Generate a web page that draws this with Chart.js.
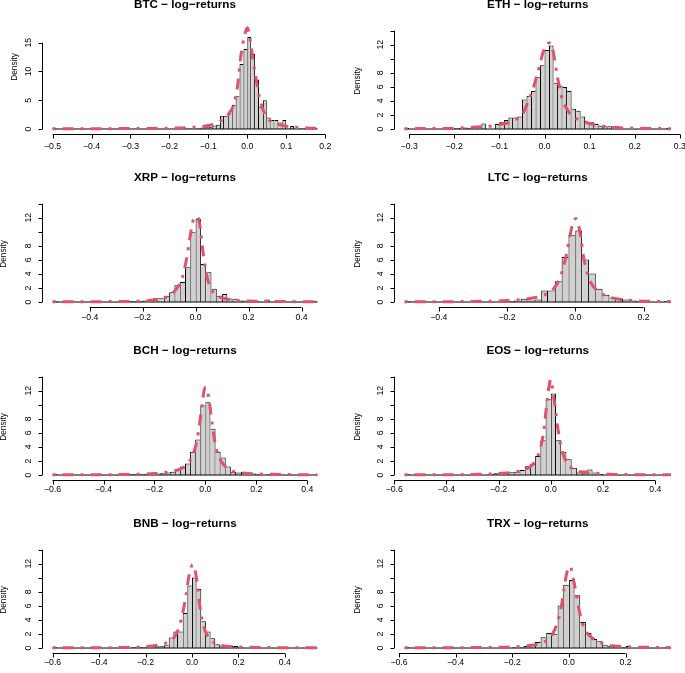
<!DOCTYPE html>
<html>
<head>
<meta charset="utf-8">
<script src="https://cdn.jsdelivr.net/npm/chart.js@4.4.1/dist/chart.umd.min.js"></script>
<style>
  body { margin: 0; background: #fff; }
  #wrap { position: relative; width: 685px; height: 673px; overflow: hidden; }
  #wrap canvas { position: absolute; }
</style>
</head>
<body>
<div id="wrap"></div>
<script>
// histogram densities (first break, bin width, heights)
const btcStart = -0.50, btcBin = 0.01;
const btcDensity = [0.15,
  0,0,0,0,0,0,0,0,0,0, 0,0,0,0,0,0,0,0,0,0, 0,0,0,0,0,0,0,0,0,0, 0,0,0,
  0.1,0.1,0.1,0.15,0.25,0.3,0.4,0.6,0.75,2.3,2.3,2.7,4.2,5.7,11.3,13.9,
  16.0,13.1,8.6,3.8,5.0,2.0,1.55,1.55,1.15,1.55,0.15,0.5,0.15,0.15,0.15,0.15,0.1,0.15];
const btcCurveX = [-0.5,-0.4,-0.3,-0.2,-0.15,-0.12,-0.1,-0.08,-0.06,-0.045,-0.035,-0.025,-0.017,-0.008,0.0,0.006,0.015,0.022,0.03,0.04,0.05,0.065,0.08,0.1,0.13,0.16,0.18];
const btcCurveY = [0.05,0.05,0.08,0.15,0.25,0.4,0.6,1.0,1.8,2.9,4.2,7.5,12.5,16.0,17.6,16.0,11.8,9.0,5.8,3.4,2.0,1.15,0.8,0.5,0.25,0.15,0.12];
const btcXTicks = [-0.5,-0.4,-0.3,-0.2,-0.1,0.0,0.1,0.2];

const ethStart = -0.31, ethBin = 0.01;
const ethDensity = [0.15,0,0,0,0.05,0,0,0,0,0.05,0.05,0.1,0.15,0.2,0.15,0.35,0.4,0.8,0.05,0.05,
  0.7,1.05,1.3,1.65,1.65,1.8,4.2,4.75,5.4,7.45,9.1,11.25,11.9,6.6,6.2,6.0,5.4,2.9,2.6,1.8,
  1.0,0.95,0.7,0.45,0.4,0.4,0.05,0.05,0,0.05,0,0.05,0,0,0.05,0,0,0,0.15];
const ethCurveX = [-0.31,-0.25,-0.2,-0.16,-0.13,-0.11,-0.09,-0.075,-0.06,-0.048,-0.036,-0.026,-0.018,-0.01,-0.004,0.004,0.01,0.016,0.022,0.028,0.034,0.04,0.05,0.06,0.075,0.09,0.11,0.13,0.16,0.2,0.24,0.28];
const ethCurveY = [0.05,0.07,0.12,0.25,0.35,0.5,0.75,1.0,1.5,2.2,4.0,5.6,7.4,9.2,10.8,11.9,12.25,11.9,10.0,7.6,5.7,4.1,2.8,1.9,1.35,1.0,0.6,0.4,0.2,0.12,0.08,0.05];
const ethXTicks = [-0.3,-0.2,-0.1,0.0,0.1,0.2,0.3];

const xrpStart = -0.54, xrpBin = 0.02;
const xrpDensity = [0.1,0,0,0.05,0,0,0,0.05,0,0,0,0,0.05,0,0.1,0.1,0.15,0.2,0.35,0.55,
  0.55,0.9,1.4,2.4,2.85,4.95,9.95,11.85,5.4,4.25,1.9,0.9,1.15,0.5,0.45,0.2,0.2,0.1,0.1,0.05,
  0.35,0.05,0,0.05,0,0.05,0,0,0,0.1];
const xrpCurveX = [-0.54,-0.4,-0.3,-0.2,-0.15,-0.1,-0.07,-0.05,-0.035,-0.02,-0.01,0.005,0.015,0.025,0.035,0.045,0.06,0.08,0.1,0.13,0.18,0.25,0.35,0.46];
const xrpCurveY = [0.05,0.05,0.07,0.15,0.35,0.9,2.0,3.5,6.0,9.5,11.5,12.2,11.2,8.0,5.2,3.3,1.8,0.95,0.6,0.35,0.15,0.1,0.06,0.05];
const xrpXTicks = [-0.4,-0.2,0.0,0.2,0.4];

const ltcStart = -0.50, ltcBin = 0.02;
const ltcDensity = [0.1,0.05,0,0,0.05,0,0,0,0,0,0.05,0,0,0,0.1,0.1,0.2,0.45,0.2,0.35,
  1.65,1.65,2.95,6.4,9.5,10.2,6.05,4.05,1.9,1.05,0.65,0.5,0.35,0.2,0.1,0.05,0.05,0.05,0.1];
const ltcCurveX = [-0.5,-0.4,-0.3,-0.2,-0.15,-0.12,-0.1,-0.08,-0.06,-0.045,-0.035,-0.025,-0.015,-0.006,0.002,0.008,0.016,0.024,0.034,0.045,0.06,0.08,0.1,0.13,0.17,0.22,0.28];
const ltcCurveY = [0.05,0.05,0.08,0.2,0.4,0.6,0.85,1.3,2.1,3.4,5.0,7.0,9.6,11.4,11.85,11.3,9.2,6.5,4.3,2.8,1.8,1.1,0.7,0.4,0.2,0.1,0.05];
const ltcXTicks = [-0.4,-0.2,0.0,0.2];

const bchStart = -0.60, bchBin = 0.02;
const bchDensity = [0.1,0,0,0.05,0,0,0,0,0.05,0,0,0,0.05,0,0,0.1,0.1,0.1,0.15,0.15,
  0.2,0.25,0.35,0.45,0.8,1.2,1.65,3.3,5.05,9.9,10.35,6.6,3.3,2.5,1.2,0.45,0.35,0.45,0.25,0.2,
  0.1,0.05,0.1,0.2,0.05,0,0.05,0,0,0.05,0,0.05];
const bchCurveX = [-0.6,-0.5,-0.4,-0.3,-0.2,-0.15,-0.12,-0.09,-0.065,-0.05,-0.035,-0.022,-0.012,-0.004,0.002,0.008,0.018,0.028,0.038,0.05,0.065,0.085,0.11,0.15,0.2,0.3,0.44];
const bchCurveY = [0.05,0.05,0.05,0.08,0.2,0.4,0.6,1.0,1.8,2.8,4.6,7.5,10.3,12.2,12.5,12.0,9.8,7.0,4.6,2.9,1.8,1.0,0.5,0.25,0.15,0.07,0.05];
const bchXTicks = [-0.6,-0.4,-0.2,0.0,0.2,0.4];

const eosStart = -0.56, eosBin = 0.02;
const eosDensity = [0.1,0,0,0.05,0,0,0,0,0.05,0,0,0,0.05,0,0.05,0.05,0.1,0.25,0.45,0.4,
  0.4,0.45,0.7,1.25,1.55,2.7,4.95,10.8,11.6,4.95,3.3,2.25,1.05,0.35,0.65,0.8,0.35,0.15,0.05,0.05,
  0,0.05,0,0.05,0.1,0,0,0.05,0,0,0.1];
const eosCurveX = [-0.56,-0.5,-0.4,-0.3,-0.2,-0.15,-0.1,-0.075,-0.055,-0.04,-0.028,-0.018,-0.008,0.0,0.008,0.018,0.028,0.04,0.055,0.075,0.1,0.13,0.17,0.22,0.3,0.4,0.46];
const eosCurveY = [0.05,0.05,0.05,0.07,0.2,0.35,0.75,1.3,2.3,3.8,6.0,9.3,12.3,13.6,12.0,9.3,6.4,3.9,2.2,1.1,0.6,0.35,0.25,0.12,0.06,0.05,0.05];
const eosXTicks = [-0.6,-0.4,-0.2,0.0,0.2,0.4];

const bnbStart = -0.60, bnbBin = 0.02;
const bnbDensity = [0.1,0,0,0.05,0,0,0,0,0,0.05,0,0,0,0.05,0,0.05,0.05,0.1,0.1,0.1,
  0.2,0.2,0.25,0.25,0.4,1.5,2.35,2.35,5.0,8.9,10.05,8.4,3.8,2.35,1.4,0.55,0.35,0.3,0.3,0.3,
  0.1,0.05,0.05,0,0.05,0,0,0,0,0,0,0,0,0,0,0,0.05];
const bnbCurveX = [-0.6,-0.5,-0.4,-0.3,-0.2,-0.15,-0.1,-0.075,-0.055,-0.04,-0.025,-0.015,-0.005,0.004,0.012,0.022,0.032,0.045,0.06,0.08,0.105,0.14,0.2,0.3,0.4,0.54];
const bnbCurveY = [0.05,0.05,0.05,0.07,0.2,0.4,0.9,1.6,3.0,5.0,7.6,9.9,11.4,11.85,11.3,9.3,6.4,3.8,2.2,1.2,0.55,0.3,0.15,0.08,0.05,0.05];
const bnbXTicks = [-0.6,-0.4,-0.2,0.0,0.2,0.4];

const trxStart = -0.58, trxBin = 0.02;
const trxDensity = [0.1,0,0,0,0,0,0,0,0,0.05,0,0,0,0,0,0.05,0,0.05,0.05,0.1,
  0.15,0.3,0.5,0.85,1.55,2.15,2.05,6.05,9.0,9.7,7.5,3.7,2.15,1.3,0.95,0.4,0.3,0.15,0.1,0.3,
  0.05,0.05,0,0.05,0,0.05,0.1];
const trxCurveX = [-0.58,-0.5,-0.4,-0.3,-0.2,-0.15,-0.1,-0.075,-0.055,-0.04,-0.028,-0.018,-0.008,0.002,0.008,0.016,0.026,0.036,0.048,0.065,0.09,0.12,0.16,0.22,0.3,0.36];
const trxCurveY = [0.05,0.05,0.05,0.08,0.15,0.3,0.65,1.2,2.2,3.7,5.6,8.2,10.6,11.6,11.3,9.8,7.7,5.4,3.5,2.1,1.2,0.6,0.3,0.15,0.08,0.05];
const trxXTicks = [-0.6,-0.4,-0.2,0.0,0.2];

// y axes: BTC has its own scale, the rest share one
const btcYTicks = [0, 5, 10, 15];
const btcYLabels = ["0", "5", "10", "15"];
const yTicks = [0, 2, 4, 6, 8, 10, 12, 14];
const yLabels = ["0", "2", "4", "6", "8", "", "12", ""];
const btcYRange = [-0.87, 22.43];
const yRange = [-0.71, 14.39];

const panels = [
  { name: "BTC", start: btcStart, bin: btcBin, dens: btcDensity, cx: btcCurveX, cy: btcCurveY, xt: btcXTicks, yt: btcYTicks, yl: btcYLabels, yr: btcYRange },
  { name: "ETH", start: ethStart, bin: ethBin, dens: ethDensity, cx: ethCurveX, cy: ethCurveY, xt: ethXTicks, yt: yTicks, yl: yLabels, yr: yRange },
  { name: "XRP", start: xrpStart, bin: xrpBin, dens: xrpDensity, cx: xrpCurveX, cy: xrpCurveY, xt: xrpXTicks, yt: yTicks, yl: yLabels, yr: yRange },
  { name: "LTC", start: ltcStart, bin: ltcBin, dens: ltcDensity, cx: ltcCurveX, cy: ltcCurveY, xt: ltcXTicks, yt: yTicks, yl: yLabels, yr: yRange },
  { name: "BCH", start: bchStart, bin: bchBin, dens: bchDensity, cx: bchCurveX, cy: bchCurveY, xt: bchXTicks, yt: yTicks, yl: yLabels, yr: yRange },
  { name: "EOS", start: eosStart, bin: eosBin, dens: eosDensity, cx: eosCurveX, cy: eosCurveY, xt: eosXTicks, yt: yTicks, yl: yLabels, yr: yRange },
  { name: "BNB", start: bnbStart, bin: bnbBin, dens: bnbDensity, cx: bnbCurveX, cy: bnbCurveY, xt: bnbXTicks, yt: yTicks, yl: yLabels, yr: yRange },
  { name: "TRX", start: trxStart, bin: trxBin, dens: trxDensity, cx: trxCurveX, cy: trxCurveY, xt: trxXTicks, yt: yTicks, yl: yLabels, yr: yRange }
];

// where each panel sits on the page
const PANEL_H = 173;
const rowTop = [-19, 154, 327, 500];
const tickGap = [12, 10, 9, 9];
const colLeft = [0, 342];
const colWidth = [342, 343];
const colPad = [{ left: 42, right: 14 }, { left: 52, right: 3.5 }];
const FONT = "'Liberation Sans', Arial, Helvetica, sans-serif";

function fmt(v) {
  return v.toFixed(1).replace("-", "\u2212");
}

// each shared edge between two bars is outlined once, by the taller bar
function barBorder(c) {
  const d = c.dataset.data, i = c.dataIndex;
  const h = d[i].y;
  const prev = i > 0 ? d[i - 1].y : -1;
  const next = i < d.length - 1 ? d[i + 1].y : -1;
  return { top: 1, bottom: 0, left: prev < h ? 1 : 0, right: next <= h ? 1 : 0 };
}

// R-like axes, title and y label drawn around the plot region
const baseAxes = {
  id: "baseAxes",
  afterDraw(chart, args, o) {
    const ctx = chart.ctx;
    const xs = chart.scales.x, ys = chart.scales.y, a = chart.chartArea;
    ctx.save();
    ctx.strokeStyle = "#000";
    ctx.fillStyle = "#000";
    ctx.lineWidth = 1;

    // title
    ctx.font = "bold 11.7px " + FONT;
    ctx.textAlign = "center";
    ctx.textBaseline = "middle";
    ctx.fillText(o.title, (a.left + a.right) / 2, 24);

    // x axis
    const yAx = Math.round(a.bottom) + 0.5;
    const x0 = xs.getPixelForValue(o.xt[0]);
    const x1 = xs.getPixelForValue(o.xt[o.xt.length - 1]);
    ctx.beginPath();
    ctx.moveTo(x0, yAx);
    ctx.lineTo(x1, yAx);
    o.xt.forEach(v => {
      const px = Math.round(xs.getPixelForValue(v)) + 0.5;
      ctx.moveTo(px, yAx);
      ctx.lineTo(px, yAx + 4);
    });
    ctx.stroke();
    ctx.font = "8.7px " + FONT;
    o.xt.forEach(v => {
      ctx.fillText(fmt(v), xs.getPixelForValue(v), yAx + o.gap);
    });

    // y axis
    const xAx = Math.round(a.left) + 0.5;
    const yb = ys.getPixelForValue(o.yt[0]);
    const yt = ys.getPixelForValue(o.yt[o.yt.length - 1]);
    ctx.beginPath();
    ctx.moveTo(xAx, yb);
    ctx.lineTo(xAx, yt);
    o.yt.forEach(v => {
      const py = Math.round(ys.getPixelForValue(v)) + 0.5;
      ctx.moveTo(xAx, py);
      ctx.lineTo(xAx - 4, py);
    });
    ctx.stroke();
    o.yt.forEach((v, i) => {
      if (!o.yl[i]) return;
      ctx.save();
      ctx.translate(xAx - 14, ys.getPixelForValue(v));
      ctx.rotate(-Math.PI / 2);
      ctx.fillText(o.yl[i], 0, 0);
      ctx.restore();
    });

    // y label
    ctx.font = "8.3px " + FONT;
    ctx.save();
    ctx.translate(o.labelX, (a.top + a.bottom) / 2);
    ctx.rotate(-Math.PI / 2);
    ctx.fillText("Density", 0, 0);
    ctx.restore();
    ctx.restore();
  }
};

const wrap = document.getElementById("wrap");

panels.forEach((p, k) => {
  const col = k % 2, row = Math.floor(k / 2);
  const cv = document.createElement("canvas");
  cv.width = colWidth[col];
  cv.height = PANEL_H;
  cv.style.width = colWidth[col] + "px";
  cv.style.height = PANEL_H + "px";
  cv.style.left = colLeft[col] + "px";
  cv.style.top = rowTop[row] + "px";
  wrap.appendChild(cv);

  const lo = p.start;
  const hi = p.start + p.bin * p.dens.length;
  const ext = 0.04 * (hi - lo);
  const chartTop = k === 0 ? 19 : 47;
  const labelX = k === 0 ? 15 : (col === 1 ? 16 : 4);

  const bars = p.dens.map((d, i) => ({ x: lo + p.bin * (i + 0.5), y: d }));
  const curve = p.cx.map((x, i) => ({ x: x, y: p.cy[i] }));

  new Chart(cv, {
    type: "bar",
    data: {
      datasets: [
        {
          type: "line",
          data: curve,
          borderColor: "#DF536B",
          borderWidth: 3,
          borderDash: [3, 7, 11, 7],
          pointRadius: 0,
          cubicInterpolationMode: "monotone",
          order: 0
        },
        {
          type: "line",
          data: [{ x: lo, y: 0 }, { x: hi, y: 0 }],
          borderColor: "#000",
          borderWidth: 1,
          pointRadius: 0,
          order: 1
        },
        {
          type: "bar",
          data: bars,
          backgroundColor: "#d0d0d0",
          borderColor: "#000",
          borderWidth: barBorder,
          barPercentage: 1,
          categoryPercentage: 1,
          inflateAmount: 0,
          order: 2
        }
      ]
    },
    options: {
      responsive: false,
      devicePixelRatio: 1,
      animation: false,
      events: [],
      layout: { padding: { left: colPad[col].left, right: colPad[col].right, top: chartTop, bottom: PANEL_H - 153 } },
      scales: {
        x: { type: "linear", min: lo - ext, max: hi + ext, offset: false, display: false },
        y: { type: "linear", min: p.yr[0], max: p.yr[1], display: false }
      },
      plugins: {
        legend: { display: false },
        tooltip: { enabled: false },
        baseAxes: { title: p.name + " \u2212 log\u2212returns", xt: p.xt, yt: p.yt, yl: p.yl, labelX: labelX, gap: tickGap[row] }
      }
    },
    plugins: [baseAxes]
  });
});
</script>
</body>
</html>
